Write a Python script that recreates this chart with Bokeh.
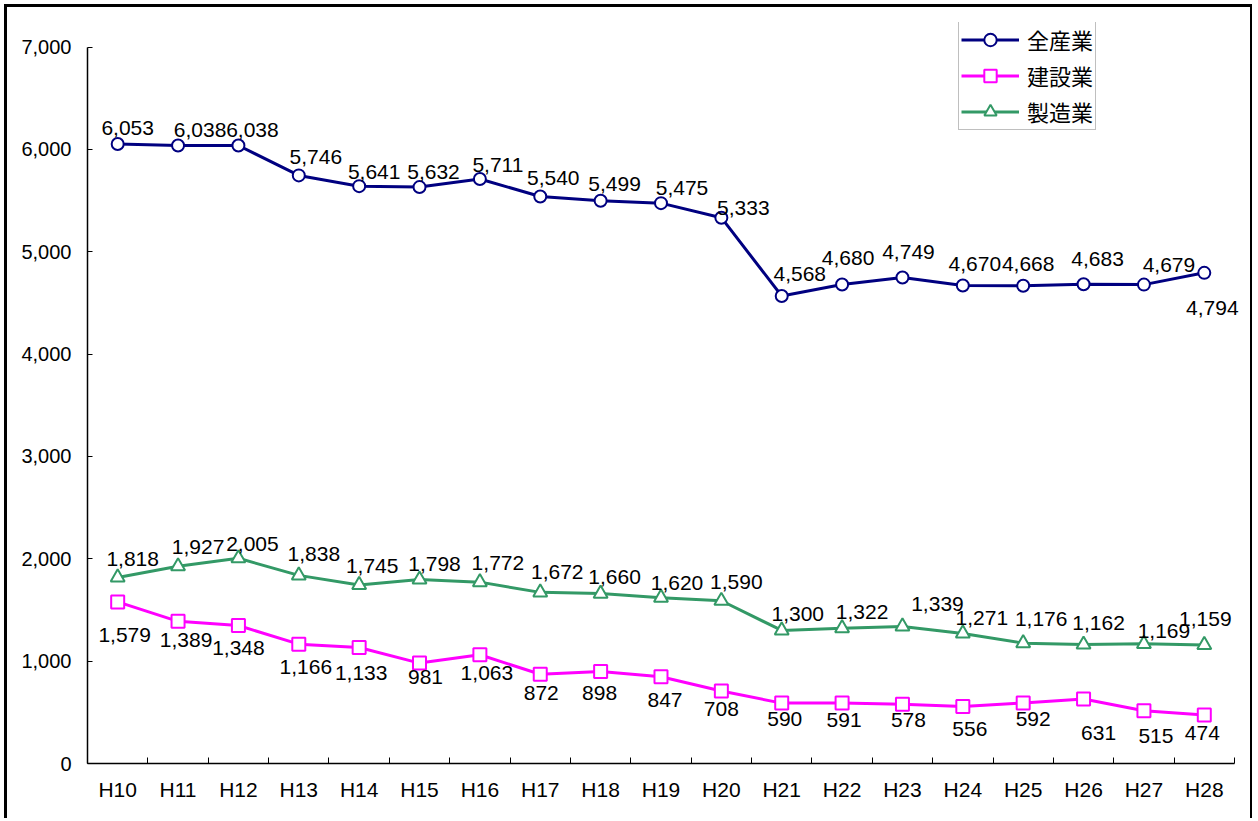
from bokeh.plotting import figure
from bokeh.models import Range1d, FixedTicker, NumeralTickFormatter, Legend, LegendItem, ColumnDataSource
from bokeh.embed import file_html
from bokeh.resources import INLINE
from bokeh.core.properties import value

categories = ["H10", "H11", "H12", "H13", "H14", "H15", "H16", "H17", "H18", "H19",
              "H20", "H21", "H22", "H23", "H24", "H25", "H26", "H27", "H28"]
all_industries = [6053, 6038, 6038, 5746, 5641, 5632, 5711, 5540, 5499, 5475,
                  5333, 4568, 4680, 4749, 4670, 4668, 4683, 4679, 4794]
construction = [1579, 1389, 1348, 1166, 1133, 981, 1063, 872, 898, 847,
                708, 590, 591, 578, 556, 592, 631, 515, 474]
manufacturing = [1818, 1927, 2005, 1838, 1745, 1798, 1772, 1672, 1660, 1620,
                 1590, 1300, 1322, 1339, 1271, 1176, 1162, 1169, 1159]
y_ticks = [0, 1000, 2000, 3000, 4000, 5000, 6000, 7000]
series_names = ["全産業", "建設業", "製造業"]

# label placement offsets in screen pixels (dx right, dy down)
all_dx = [10, 22, 14, 17, 15, 14, 18, 13, 14, 21, 22, 18, 6, 6, 12, 5, 14, 25, 8]
all_dy = [-16, -16, -16, -18, -14, -15, -14, -18, -17, -15, -10, -22, -27, -25, -22, -22, -25, -20, 35]
con_dx = [7, 8, 0, 7, 2, 6, 7, 1, -1, 4, 0, 3, 2, 6, 7, 10, 15, 12, -2]
con_dy = [33, 19, 22, 23, 25, 14, 18, 19, 21, 23, 18, 16, 17, 16, 22, 16, 34, 25, 18]
mfg_dx = [15, 20, 14, 15, 13, 15, 18, 17, 14, 16, 15, 16, 20, 35, 19, 18, 15, 20, 1]
mfg_dy = [-18, -19, -14, -21, -19, -15, -19, -20, -17, -15, -19, -16, -16, -22, -15, -24, -22, -13, -26]

n = len(categories)
xs = [i + 0.5 for i in range(n)]

p = figure(width=1248, height=814, x_range=Range1d(0, n + 0.166), y_range=Range1d(0, 7240),
           output_backend="svg", toolbar_location=None,
           min_border_left=80, min_border_right=11, min_border_top=15, min_border_bottom=58,
           styles={"margin-left": "4px", "margin-top": "4px",
                   "border-left": "3px solid black", "border-top": "3px solid black",
                   "border-right": "2px solid black"})
p.outline_line_color = None
p.xgrid.visible = False
p.ygrid.visible = False
p.background_fill_color = "white"
p.border_fill_color = "white"

xa = p.xaxis[0]
xa.ticker = FixedTicker(ticks=xs, minor_ticks=list(range(n + 1)))
xa.bounds = (0, n)
xa.major_label_overrides = {x: c for x, c in zip(xs, categories)}
xa.major_tick_in = 0
xa.major_tick_out = 0
xa.minor_tick_in = 6
xa.minor_tick_out = 0
xa.minor_tick_line_color = "black"
xa.axis_line_color = "black"
xa.axis_line_width = 1.5
xa.major_label_text_font = "Liberation Sans"
xa.major_label_text_font_size = "21px"
xa.major_label_text_color = "black"
xa.major_label_standoff = 14

ya = p.yaxis[0]
ya.ticker = FixedTicker(ticks=y_ticks)
ya.bounds = (0, 7000)
ya.formatter = NumeralTickFormatter(format="0,0")
ya.major_tick_in = 5
ya.major_tick_out = 0
ya.minor_tick_line_color = None
ya.axis_line_color = "black"
ya.axis_line_width = 1.5
ya.major_label_text_font = "Liberation Sans"
ya.major_label_text_font_size = "20px"
ya.major_label_text_color = "black"
ya.major_label_standoff = 16

series = [
    (all_industries, "#000080", "circle", all_dx, all_dy, 12),
    (construction, "#FF00FF", "square", con_dx, con_dy, 13),
    (manufacturing, "#339966", "triangle", mfg_dx, mfg_dy, 14),
]

items = []
for (vals, color, marker, dx, dy, size), name in zip(series, series_names):
    src = ColumnDataSource(dict(x=xs, y=vals, t=[f"{v:,}" for v in vals], dx=dx, dy=dy))
    lr = p.line("x", "y", source=src, line_color=color, line_width=3)
    sr = p.scatter("x", "y", source=src, marker=marker, size=size, fill_color="white",
                   line_color=color, line_width=2)
    p.text("x", "y", text="t", source=src, x_offset="dx", y_offset="dy",
           text_align="center", text_baseline="middle", text_color="black",
           text_font=value("Liberation Sans"), text_font_size="21px")
    items.append(LegendItem(label=name, renderers=[lr, sr]))

legend = Legend(items=items, location=(871, 633), orientation="vertical",
                label_text_font="Noto Sans CJK JP", label_text_font_size="22px",
                label_text_color="black", glyph_width=58, glyph_height=31,
                label_height=31, spacing=4, padding=2, margin=0, label_standoff=8,
                border_line_color="#808080", border_line_width=1.5,
                background_fill_color="white", background_fill_alpha=1)
p.add_layout(legend, "center")

open("out.html", "w").write(file_html(p, INLINE))
